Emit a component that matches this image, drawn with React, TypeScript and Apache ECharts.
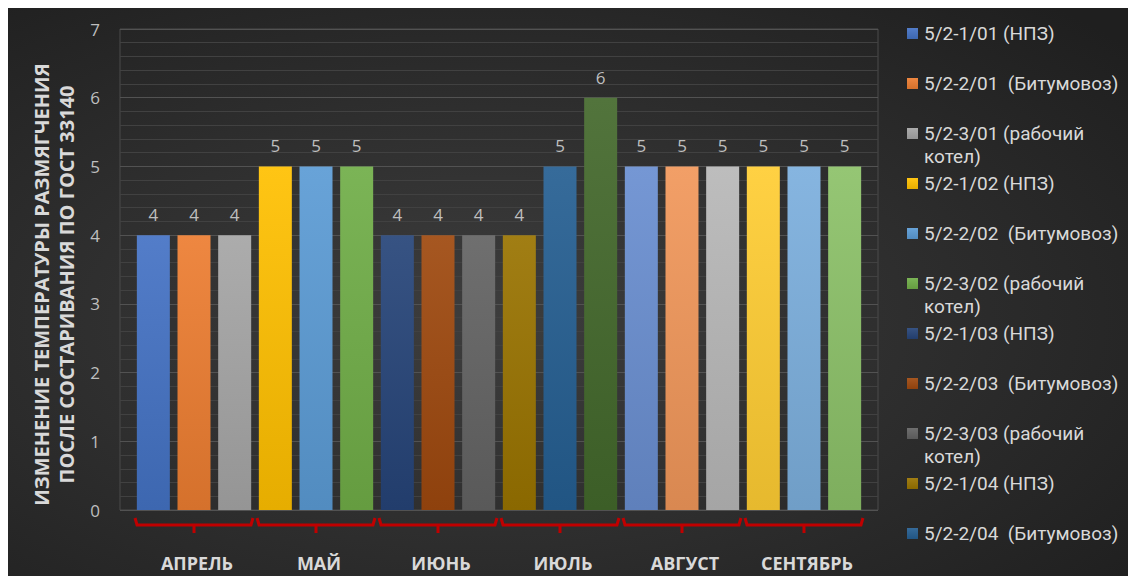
import React, { useEffect, useRef } from "react";
import * as echarts from "echarts";

const months = ["АПРЕЛЬ", "МАЙ", "ИЮНЬ", "ИЮЛЬ", "АВГУСТ", "СЕНТЯБРЬ"];

const seriesNames = [
  "5/2-1/01 (НПЗ)",
  "5/2-2/01  (Битумовоз)",
  "5/2-3/01 (рабочий котел)",
  "5/2-1/02 (НПЗ)",
  "5/2-2/02  (Битумовоз)",
  "5/2-3/02 (рабочий котел)",
  "5/2-1/03 (НПЗ)",
  "5/2-2/03  (Битумовоз)",
  "5/2-3/03 (рабочий котел)",
  "5/2-1/04 (НПЗ)",
  "5/2-2/04  (Битумовоз)",
  "5/2-3/04 (рабочий котел)",
  "5/2-1/05 (НПЗ)",
  "5/2-2/05  (Битумовоз)",
  "5/2-3/05 (рабочий котел)",
  "5/2-1/06 (НПЗ)",
  "5/2-2/06  (Битумовоз)",
  "5/2-3/06 (рабочий котел)",
];

const seriesValues = [4, 4, 4, 5, 5, 5, 4, 4, 4, 4, 5, 6, 5, 5, 5, 5, 5, 5];

const seriesColors = [
  "#4472C4", "#ED7D31", "#A5A5A5",
  "#FFC000", "#5B9BD5", "#70AD47",
  "#264478", "#9E480E", "#636363",
  "#997300", "#255E91", "#43682B",
  "#698ED0", "#F1975A", "#B7B7B7",
  "#FFCD33", "#7CAFDD", "#8CC168",
];

const legendCount = 11;
const yAxisTitle = "ИЗМЕНЕНИЕ ТЕМПЕРАТУРЫ РАЗМЯГЧЕНИЯ\nПОСЛЕ СОСТАРИВАНИЯ ПО ГОСТ 33140";
const continuationWord = "котел)";

const FONT = '"Open Sans", "Noto Sans", "DejaVu Sans", sans-serif';
const LEGEND_FONT = 'Roboto, "Open Sans", sans-serif';

function shade(hex: string, amt: number): string {
  const n = parseInt(hex.slice(1), 16);
  let r = (n >> 16) & 255, g = (n >> 8) & 255, b = n & 255;
  const f = (c: number) =>
    Math.max(0, Math.min(255, Math.round(amt >= 0 ? c + (255 - c) * amt : c * (1 + amt))));
  r = f(r); g = f(g); b = f(b);
  return "#" + ((1 << 24) + (r << 16) + (g << 8) + b).toString(16).slice(1);
}

export default function App() {
  const ref = useRef<HTMLDivElement>(null);

  useEffect(() => {
    document.documentElement.style.overflow = "hidden";
    const chart = echarts.init(ref.current!, null, { renderer: "svg" });

    const barSeries = seriesNames.map((name, i) => ({
      name,
      type: "bar",
      data: [[i, seriesValues[i]]],
      barWidth: 33,
      barGap: "-100%",
      itemStyle: {
        color: {
          type: "linear", x: 0, y: 0, x2: 0, y2: 1,
          colorStops: [
            { offset: 0, color: shade(seriesColors[i], 0.08) },
            { offset: 1, color: shade(seriesColors[i], -0.1) },
          ],
        },
      },
      label: {
        show: true,
        position: "top",
        distance: 12,
        color: "#bfbfbf",
        fontSize: 17,
        fontFamily: FONT,
      },
    }));

    const bracketSeries = {
      type: "custom",
      silent: true,
      z: 10,
      clip: false,
      data: months.map((_, k) => [k * 3 + 1, 0, k]),
      renderItem: (_params: any, api: any) => {
        const cx = api.value(0);
        const k = api.value(2);
        const l = api.coord([cx - 1.45, 0]);
        const r = api.coord([cx + 1.45, 0]);
        const m = api.coord([cx, 0]);
        const y = l[1] + 15;
        return {
          type: "group",
          children: [
            {
              type: "polyline",
              shape: { points: [[l[0], y - 7], [l[0] + 2, y], [r[0] - 2, y], [r[0], y - 7]] },
              style: { stroke: "#c00000", lineWidth: 3, fill: null },
            },
            {
              type: "line",
              shape: { x1: m[0], y1: y, x2: m[0], y2: y + 8 },
              style: { stroke: "#c00000", lineWidth: 3 },
            },
            {
              type: "text",
              x: m[0] + 3,
              y: y + 38,
              style: {
                text: months[k],
                fill: "#d9d9d9",
                font: `bold 18px ${FONT}`,
                align: "center",
                verticalAlign: "middle",
              },
            },
          ],
        };
      },
    };

    const legendTop = 11;
    const legendPitch = 50;
    const continuationTexts = seriesNames
      .slice(0, legendCount)
      .map((n, i) => ({ n, i }))
      .filter((o) => o.n.includes(continuationWord))
      .map((o) => ({
        type: "text",
        x: 916,
        y: legendTop + 5 + 9.5 + legendPitch * o.i + 23,
        style: {
          text: continuationWord,
          fill: "#d9d9d9",
          font: `19px ${LEGEND_FONT}`,
          verticalAlign: "middle",
        },
      }));

    chart.setOption({
      animation: false,
      backgroundColor: {
        type: "radial",
        x: 0.42,
        y: 0.55,
        r: 0.75,
        colorStops: [
          { offset: 0, color: "#3d3d3d" },
          { offset: 1, color: "#1f1f1f" },
        ],
      },
      grid: { left: 112, top: 21, width: 758, height: 481, show: true, borderColor: "#4a4a4a", borderWidth: 1 },
      legend: {
        data: seriesNames.slice(0, legendCount),
        orient: "vertical",
        left: 894,
        top: legendTop,
        itemWidth: 11,
        itemHeight: 11,
        itemGap: 31,
        selectedMode: false,
        icon: "rect",
        formatter: (name: string) => name.replace(" " + continuationWord, ""),
        textStyle: {
          color: "#d9d9d9",
          fontSize: 19,
          fontFamily: LEGEND_FONT,
          lineHeight: 19,
          padding: [0, 0, 0, 1],
        },
      },
      xAxis: {
        type: "value",
        min: -0.82,
        max: 17.82,
        axisLabel: { show: false },
        axisLine: { show: false },
        axisTick: { show: false },
        splitLine: { show: false },
      },
      yAxis: {
        type: "value",
        min: 0,
        max: 7,
        interval: 1,
        name: yAxisTitle,
        nameLocation: "middle",
        nameGap: 41,
        nameRotate: 90,
        nameTextStyle: {
          color: "#d9d9d9",
          fontSize: 20,
          fontWeight: "bold",
          fontFamily: FONT,
          lineHeight: 25,
          padding: [0, 30, 0, 0],
        },
        axisLabel: { color: "#bfbfbf", fontSize: 17, fontFamily: FONT, margin: 20 },
        axisLine: { show: false },
        axisTick: { show: false },
        splitLine: { lineStyle: { color: "#525252", width: 1 } },
        minorTick: { show: false, splitNumber: 5 },
        minorSplitLine: { show: true, lineStyle: { color: "#414141", width: 1 } },
      },
      graphic: continuationTexts,
      series: [...barSeries, bracketSeries],
    });

    return () => chart.dispose();
  }, []);

  return <div ref={ref} style={{ width: 1128, height: 568 }} />;
}
